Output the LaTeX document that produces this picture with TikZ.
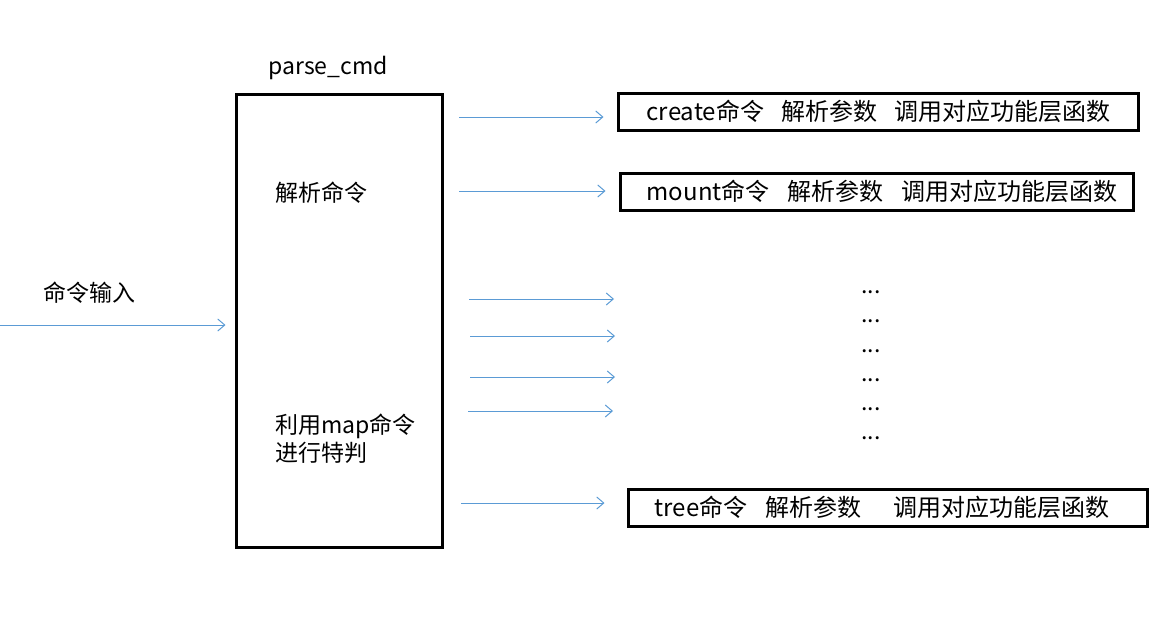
\documentclass[tikz,border=0pt]{standalone}
\usepackage{fontspec}
\newfontfamily\cjk{Noto Sans CJK SC}
\usetikzlibrary{arrows.meta}
\definecolor{arrowblue}{RGB}{91,155,213}
\tikzstyle{flowarrow}=[
    draw=arrowblue,
    line width=1pt,
    -{Straight Barb[length=7pt,width=12pt]},
]
\tikzstyle{cmdbox}=[
    draw,
    line width=3pt,
    minimum height=37pt,
    inner sep=0pt,
]
\tikzstyle{txt}=[
    font=\cjk\fontsize{23}{28}\selectfont,
    inner sep=0pt,
]
\tikzstyle{boxtxt}=[
    font=\cjk\fontsize{24}{28}\selectfont,
    inner sep=0pt,
]

\begin{document}
\begin{tikzpicture}[x=1pt,y=-1pt]
        \useasboundingbox (0,0) rectangle (1172,632);
        % parse_cmd box
        \node[draw, line width=3pt, minimum width=206pt, minimum height=453pt] (parse) at (339,320.5) {};
        \node[txt] (parsename) at (328,68) {parse\_cmd};
        \node[txt, anchor=west] (parsecmd) at (275,193) {解析命令};
        \node[txt, anchor=west, align=left] (mapcmd) at (275,439) {利用map命令\\进行特判};
        % input
        \node[txt, anchor=west] (inputlabel) at (43,293) {命令输入};
        \coordinate (inbeg) at (0,325);
        \draw[flowarrow, shorten >=9pt] (inbeg) -- (inbeg -| parse.west);
        % command boxes
        \node[cmdbox, minimum width=520pt] (create) at (878,111.5) {};
        \node[boxtxt, anchor=west] at ([xshift=30pt]create.west) {create命令\hspace{17pt}解析参数\hspace{17pt}调用对应功能层函数};
        \node[cmdbox, minimum width=513pt] (mount) at (876.5,191.5) {};
        \node[boxtxt, anchor=west] at ([xshift=28pt]mount.west) {mount命令\hspace{18pt}解析参数\hspace{18pt}调用对应功能层函数};
        \node[cmdbox, minimum width=519pt] (tree) at (887.5,507.5) {};
        \node[boxtxt, anchor=west] at ([xshift=28pt]tree.west) {tree命令\hspace{18pt}解析参数\hspace{32pt}调用对应功能层函数};
        % arrows to the boxes
        \coordinate (cbeg) at (459,117);
        \coordinate (mbeg) at (459,191);
        \coordinate (tbeg) at (461,503);
        \draw[flowarrow, shorten >=13pt] (cbeg) -- (cbeg -| create.west);
        \draw[flowarrow, shorten >=13pt] (mbeg) -- (mbeg -| mount.west);
        \draw[flowarrow, shorten >=22pt] (tbeg) -- (tbeg -| tree.west);
        % the other commands
        \foreach \y/\xa/\xb [count=\i] in {299/469/614, 336/470/615, 377/470/615, 411/468/613} {
            \coordinate (mid\i a) at (\xa,\y);
            \coordinate (mid\i b) at (\xb,\y);
            \draw[flowarrow] (mid\i a) -- (mid\i b);
        }
        \foreach \y [count=\i] in {292,321,351,380,409,438}
            \node[txt] (dots\i) at (871,\y) {...};
    \end{tikzpicture}
\end{document}
